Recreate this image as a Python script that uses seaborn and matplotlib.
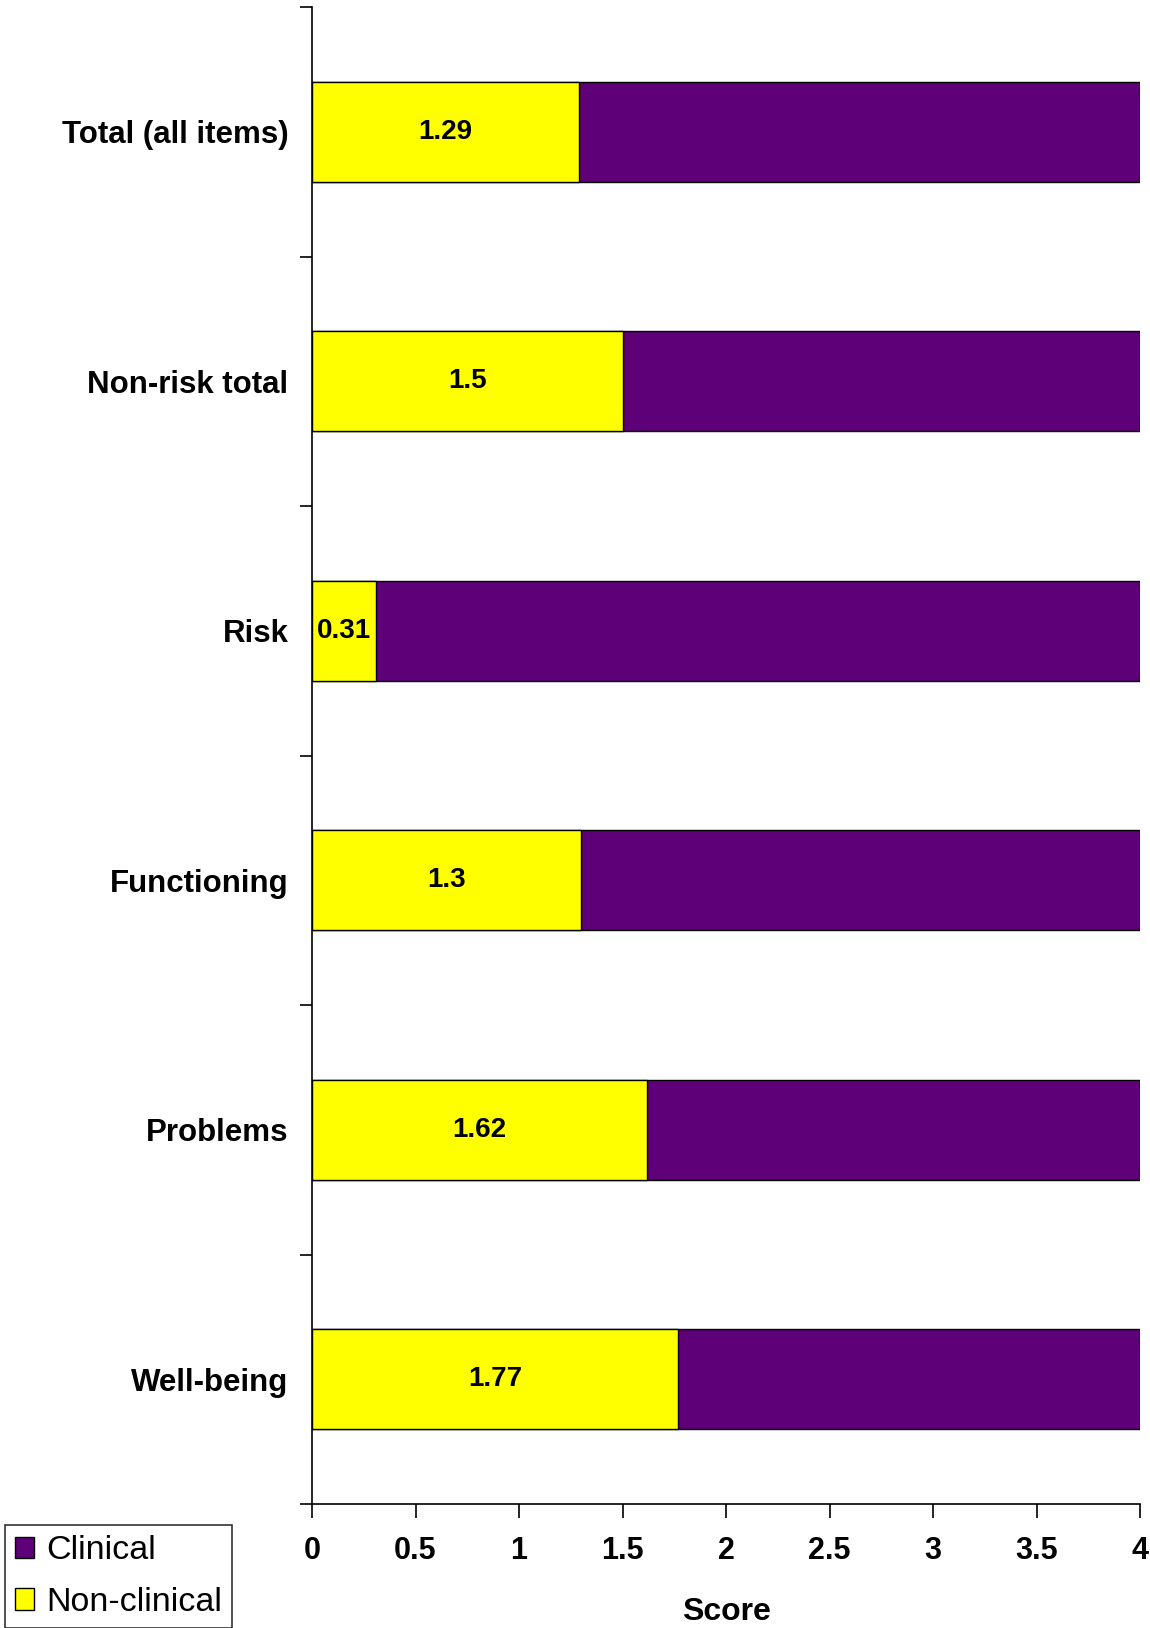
import matplotlib
matplotlib.use("Agg")
import matplotlib.pyplot as plt
import seaborn as sns
import pandas as pd
import numpy as np
from matplotlib.patches import Patch

categories = ["Total (all items)", "Non-risk total", "Risk", "Functioning", "Problems", "Well-being"]
non_clinical = [1.29, 1.5, 0.31, 1.3, 1.62, 1.77]
clinical_upper = [4, 4, 4, 4, 4, 4]
value_labels = ["1.29", "1.5", "0.31", "1.3", "1.62", "1.77"]
x_ticks = [0, 0.5, 1, 1.5, 2, 2.5, 3, 3.5, 4]
x_tick_labels = ["0", "0.5", "1", "1.5", "2", "2.5", "3", "3.5", "4"]

purple = "#5E0078"
yellow = "#FFFF00"

sns.set_theme(style="white")
plt.rcParams['font.family'] = ['Liberation Sans', 'DejaVu Sans']
plt.rcParams['text.color'] = 'black'
plt.rcParams['axes.labelcolor'] = 'black'
plt.rcParams['xtick.color'] = 'black'
plt.rcParams['ytick.color'] = 'black'

df = pd.DataFrame({"category": categories, "nonclin": non_clinical, "clin": clinical_upper})

fig = plt.figure(figsize=(11.5, 16.28), dpi=100)
ax = fig.add_axes([312/1150, 1 - 1504/1628, (1140-312)/1150, (1504-7)/1628])

sns.barplot(data=df, y="category", x="clin", order=categories, color=purple,
            width=0.4, edgecolor="black", linewidth=1.0, saturation=1, ax=ax)
sns.barplot(data=df, y="category", x="nonclin", order=categories, color=yellow,
            width=0.4, edgecolor="black", linewidth=1.0, saturation=1, ax=ax)

for i, (v, lab) in enumerate(zip(non_clinical, value_labels)):
    ax.text(v / 2, i, lab, ha="center", va="center", fontsize=20, fontweight="bold", color="black")

ax.set_xlim(0, 4)
ax.set_ylim(5.5, -0.5)
ax.set_xticks(x_ticks)
ax.set_xticklabels(x_tick_labels, fontsize=22, fontweight="bold", color="black")
ax.set_yticks(range(len(categories)))
ax.set_yticklabels(categories, fontsize=22.5, fontweight="bold", color="black")
ax.set_yticks(np.arange(-0.5, 6, 1), minor=True)
ax.tick_params(axis="y", which="major", length=0, pad=17)
ax.tick_params(axis="y", which="minor", length=9, width=1.2, color="black", direction="out", left=True)
ax.tick_params(axis="x", which="major", length=10, width=1.2, color="black", direction="out", bottom=True, pad=13)
ax.set_xlabel("Score", fontsize=23, fontweight="bold", labelpad=22, color="black")
ax.set_ylabel("")
for s in ["top", "right"]:
    ax.spines[s].set_visible(False)
for s in ["left", "bottom"]:
    ax.spines[s].set_color("black")
    ax.spines[s].set_linewidth(1.2)

handles = [Patch(facecolor=purple, edgecolor="black", label="Clinical"),
           Patch(facecolor=yellow, edgecolor="black", label="Non-clinical")]
leg = fig.legend(handles=handles, loc="lower left", bbox_to_anchor=(5/1150, 0.0),
                 fontsize=24.5, frameon=True, fancybox=False, handlelength=0.55, handleheight=0.6,
                 handletextpad=0.35, borderpad=0.3, labelspacing=0.6, borderaxespad=0)
leg.get_frame().set_edgecolor("black")
leg.get_frame().set_linewidth(1.2)
for t in leg.get_texts():
    t.set_color("black")

fig.savefig("out.png", dpi=100, facecolor="white")
